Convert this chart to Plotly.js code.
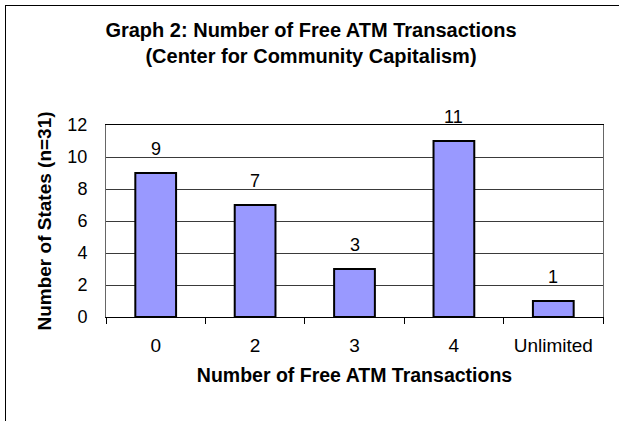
<!DOCTYPE html>
<html>
<head>
<meta charset="utf-8">
<script src="https://cdn.plot.ly/plotly-3.0.1.min.js"></script>
<style>
  html, body { margin: 0; padding: 0; background: #fff; }
  #wrap { position: relative; width: 619px; height: 421px; overflow: hidden; }
  #chart { position: absolute; left: 0; top: 0; width: 619px; height: 421px; }
  #frame { position: absolute; left: 5px; top: 5px; width: 700px; height: 500px;
           border-left: 1.5px solid #000; border-top: 1.5px solid #000; pointer-events: none; }
</style>
</head>
<body>
<div id="wrap">
  <div id="chart"></div>
  <div id="frame"></div>
</div>
<script>
const categories = ["0", "2", "3", "4", "Unlimited"];
const values = [9, 7, 3, 11, 1];
const yTicks = [0, 2, 4, 6, 8, 10, 12];

const FONT = "Liberation Sans, Arial, sans-serif";

const trace = {
  type: "bar",
  x: categories,
  y: values,
  marker: { color: "#9999FF", line: { color: "#000", width: 2 } },
  hoverinfo: "none"
};

// value labels above each bar (category index used as the x position on the category axis)
const annotations = categories.map((c, i) => ({
  x: i, y: values[i], xref: "x", yref: "y",
  text: String(values[i]), showarrow: false,
  yanchor: "bottom", yshift: 12,
  font: { family: FONT, size: 18, color: "#000" }
}));

const layout = {
  width: 619, height: 421,
  margin: { l: 106, r: 16, t: 125, b: 104 },
  paper_bgcolor: "rgba(0,0,0,0)",
  plot_bgcolor: "#fff",
  bargap: 0.59,
  showlegend: false,
  font: { family: FONT, size: 18, color: "#000" },
  title: {
    text: "<b>Graph 2: Number of Free ATM Transactions<br>(Center for Community Capitalism)</b>",
    x: 311 / 619, xanchor: "center",
    y: 1 - 37 / 421, yanchor: "top", yref: "container",
    font: { family: FONT, size: 20, color: "#000" }
  },
  xaxis: {
    type: "category",
    categoryarray: categories,
    tickson: "boundaries",
    ticks: "outside", ticklen: 6, tickcolor: "#000", tickwidth: 1,
    showline: true, linecolor: "#000", linewidth: 1, mirror: true,
    showgrid: false,
    ticklabelstandoff: 11,
    tickfont: { family: FONT, size: 19, color: "#000" },
    title: { text: "<b>Number of Free ATM Transactions</b>", standoff: 13,
             font: { family: FONT, size: 19.5, color: "#000" } }
  },
  yaxis: {
    range: [0, 12],
    tickvals: yTicks,
    ticktext: yTicks.map(String),
    ticks: "",
    showline: true, linecolor: "#666", linewidth: 1, mirror: true,
    showgrid: true, gridcolor: "#3a3a3a", gridwidth: 1,
    zeroline: false,
    ticklabelstandoff: 14,
    tickfont: { family: FONT, size: 18, color: "#000" },
    title: { text: "<b>Number of States (n=31)</b>", standoff: 10,
             font: { family: FONT, size: 19, color: "#000" } }
  },
  annotations: annotations
};

Plotly.newPlot("chart", [trace], layout, { displayModeBar: false, staticPlot: true });
</script>
</body>
</html>
